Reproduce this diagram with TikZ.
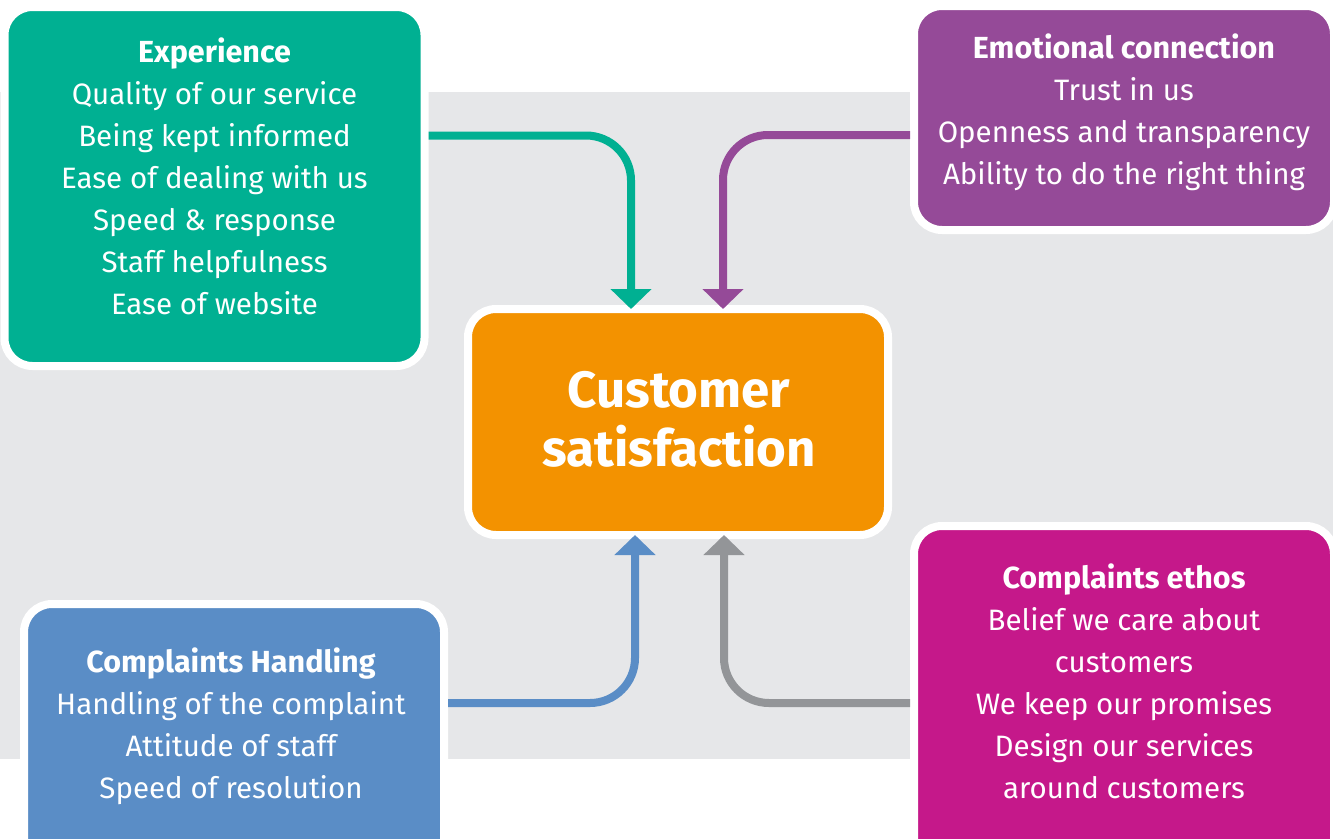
\documentclass[tikz,border=0pt]{standalone}
\usepackage{fontspec}
\setmainfont{Fira Sans}
\usetikzlibrary{arrows.meta}
\definecolor{cteal}{HTML}{00B092}
\definecolor{cpurple}{HTML}{954A98}
\definecolor{corange}{HTML}{F39200}
\definecolor{cblue}{HTML}{5A8DC6}
\definecolor{cmag}{HTML}{C5188A}
\definecolor{cgray}{HTML}{939598}
\definecolor{bgc}{HTML}{E6E7E9}
\newcommand\hd[1]{{\fontsize{30.5}{42}\selectfont\bfseries #1}}
\begin{document}
\begin{tikzpicture}[x=1pt,y=-1pt,
  box/.style={draw=white, line width=8pt, rounded corners=28pt, minimum width=420pt, inner sep=0pt},
  txt/.style={text=white, align=center, font=\fontsize{29.5}{42}\selectfont},
  ttl/.style={text=white, align=center, font=\fontsize{51}{55}\selectfont\bfseries},
  conn/.style={line width=8pt, rounded corners=45pt, -{Triangle[width=40pt,length=20pt]}},
]
\useasboundingbox (0,0) rectangle (1333,838);
\fill[bgc] (0,92) rectangle (1333,759);
\node[box, fill=cteal, minimum height=359pt] (exp) at (214.5,186.5) {};
\node[box, fill=cpurple, minimum height=224pt] (emo) at (1124,118) {};
\node[box, fill=corange, minimum height=226pt, outer sep=0pt] (cs) at (678,422) {};
\node[box, fill=cblue, minimum height=276pt] (hand) at (234,742) {};
\node[box, fill=cmag, minimum height=354pt] (eth) at (1124,703) {};
\node[txt] (exptxt) at (214.5,180) {\strut\hd{Experience}\\Quality of our service\\Being kept informed\\Ease of dealing with us\\Speed \& response\\Staff helpfulness\\Ease of website\strut};
\node[txt] (emotxt) at (1124,113.5) {\strut\hd{Emotional connection}\\Trust in us\\Openness and transparency\\Ability to do the right thing\strut};
\node[txt] (handtxt) at (231,727) {\strut\hd{Complaints Handling}\\Handling of the complaint\\Attitude of staff\\Speed of resolution\strut};
\node[txt] (ethtxt) at (1124,685) {\strut\hd{Complaints ethos}\\Belief we care about\\customers\\We keep our promises\\Design our services\\around customers\strut};
\node[ttl] (cstxt) at (679,426) {\strut Customer\\satisfaction\strut};
\draw[conn, cteal] ([yshift=51pt]exp.east) -| ([xshift=-47pt]cs.north);
\draw[conn, cpurple] ([yshift=-17pt]emo.west) -| ([xshift=45pt]cs.north);
\draw[conn, cblue] ([yshift=39pt]hand.east) -| ([xshift=-43pt]cs.south);
\draw[conn, cgray] (eth.west) -| ([xshift=46pt]cs.south);
\end{tikzpicture}
\end{document}
